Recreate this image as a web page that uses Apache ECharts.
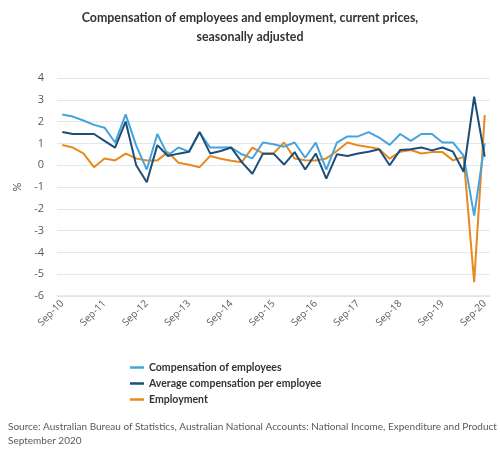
<!DOCTYPE html>
<html><head><meta charset="utf-8">
<script src="https://cdn.jsdelivr.net/npm/echarts@6/dist/echarts.min.js"></script>
<style>html,body{margin:0;padding:0;background:#fff}#c{width:500px;height:458px}</style>
</head><body><div id="c"></div>
<script>
const categories = ["Sep-10","Dec-10","Mar-11","Jun-11","Sep-11","Dec-11","Mar-12","Jun-12","Sep-12","Dec-12","Mar-13","Jun-13","Sep-13","Dec-13","Mar-14","Jun-14","Sep-14","Dec-14","Mar-15","Jun-15","Sep-15","Dec-15","Mar-16","Jun-16","Sep-16","Dec-16","Mar-17","Jun-17","Sep-17","Dec-17","Mar-18","Jun-18","Sep-18","Dec-18","Mar-19","Jun-19","Sep-19","Dec-19","Mar-20","Jun-20","Sep-20"];
const compensation = [2.33,2.23,2.05,1.85,1.72,1.04,2.33,0.9,-0.2,1.43,0.45,0.81,0.62,1.5,0.81,0.81,0.81,0.5,0.31,1.04,0.96,0.85,1.04,0.34,1.04,-0.2,1.04,1.32,1.32,1.52,1.27,0.93,1.43,1.12,1.43,1.43,1.04,1.04,0.44,-2.31,1.0];
const avgCompensation = [1.52,1.43,1.43,1.43,1.12,0.81,2.0,0.0,-0.78,0.92,0.42,0.53,0.62,1.53,0.54,0.65,0.81,0.14,-0.39,0.53,0.53,0.03,0.6,-0.2,0.54,-0.62,0.5,0.42,0.54,0.62,0.73,0.0,0.7,0.73,0.81,0.68,0.81,0.62,-0.3,3.14,0.39];
const employment = [0.93,0.81,0.54,-0.09,0.31,0.22,0.53,0.31,0.22,0.22,0.6,0.11,0.02,-0.09,0.42,0.3,0.2,0.14,0.81,0.54,0.54,1.04,0.31,0.23,0.22,0.31,0.65,1.04,0.91,0.84,0.74,0.3,0.62,0.7,0.54,0.6,0.6,0.22,0.38,-5.37,2.3];
const seriesNames = ["Compensation of employees","Average compensation per employee","Employment"];
const colors = ["#45a3dd","#1d4e78","#e8891f"];

const chart = echarts.init(document.getElementById('c'), null, {renderer:'canvas'});
const font = "Lato, 'Open Sans', sans-serif";
chart.setOption({
  animation:false,
  textStyle:{fontFamily:font},
  title:{
    text:"Compensation of employees and employment, current prices,\nseasonally adjusted",
    left:'center', top:3,
    textStyle:{fontSize:12.4, fontWeight:'bold', color:'#333', lineHeight:19, fontFamily:font}
  },
  legend:{
    orient:'vertical', left:125, top:357, itemWidth:14, itemHeight:2.5, itemGap:5,
    icon:'rect',
    textStyle:{fontSize:10.5, fontWeight:'bold', color:'#333', fontFamily:font},
    data:seriesNames
  },
  graphic:[{
    type:'text', left:8, top:420,
    style:{text:"Source: Australian Bureau of Statistics, Australian National Accounts: National Income, Expenditure and Product\nSeptember 2020", fontSize:10, lineHeight:14, fill:'#595959', fontFamily:font}
  }],
  grid:{left:57, right:10, top:78, bottom:162},
  xAxis:{
    type:'category', data:categories, boundaryGap:true,
    axisLine:{onZero:false, lineStyle:{color:'#dce4f0', width:1.5}},
    axisTick:{show:false},
    axisLabel:{interval:3, rotate:45, fontSize:10, color:'#595959', margin:6, fontFamily:"'Open Sans', sans-serif"}
  },
  yAxis:{
    type:'value', min:-6, max:4, interval:1,
    name:'%', nameLocation:'middle', nameGap:33, nameRotate:90,
    nameTextStyle:{fontSize:11, color:'#595959'},
    axisLine:{show:false}, axisTick:{show:false},
    axisLabel:{fontSize:11, color:'#595959', margin:13, fontFamily:"'Open Sans', sans-serif"},
    splitLine:{lineStyle:{color:'#e6e6e6'}}
  },
  series:[
    {name:seriesNames[0], type:'line', data:compensation, symbol:'none', lineStyle:{width:2, color:colors[0]}, itemStyle:{color:colors[0]}, z:2},
    {name:seriesNames[1], type:'line', data:avgCompensation, symbol:'none', lineStyle:{width:2, color:colors[1]}, itemStyle:{color:colors[1]}, z:3},
    {name:seriesNames[2], type:'line', data:employment, symbol:'none', lineStyle:{width:2, color:colors[2]}, itemStyle:{color:colors[2]}, z:1}
  ]
});
</script></body></html>
